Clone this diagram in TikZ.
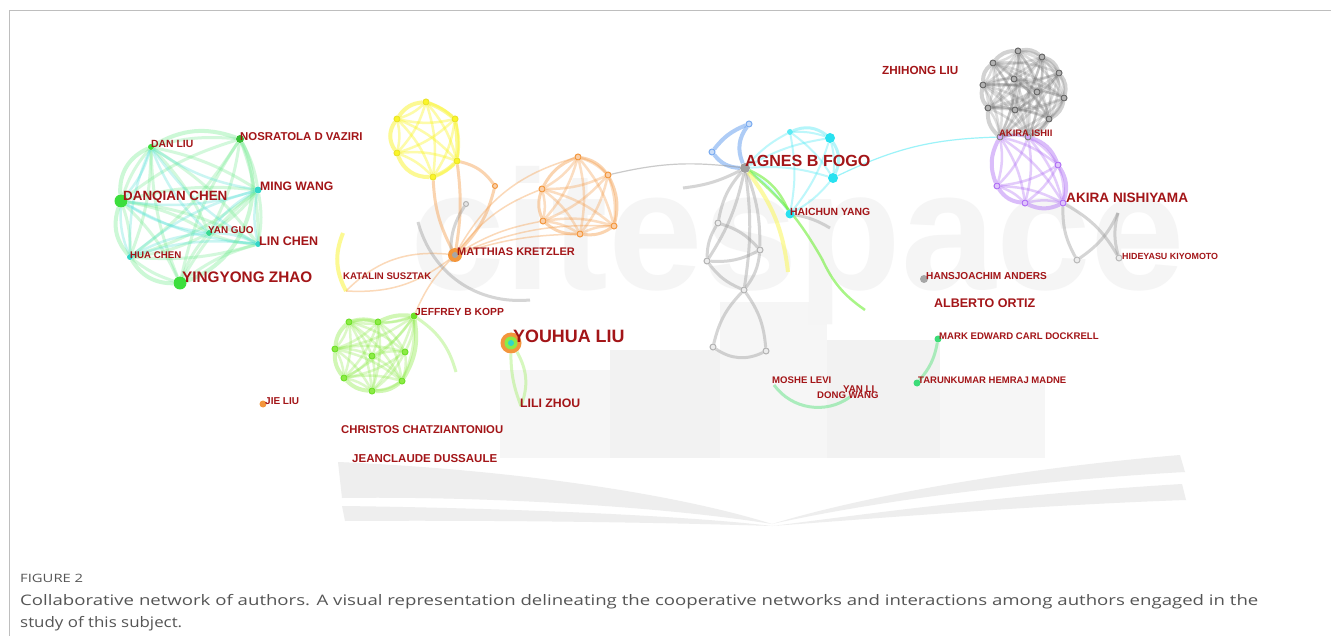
\documentclass[tikz,border=0pt]{standalone}
\usepackage{fontspec}
\usepackage{graphicx}
\setmainfont{Liberation Sans}
\newfontfamily\capfont{Open Sans}

\definecolor{lblred}{RGB}{163,21,24}
\definecolor{gA}{RGB}{60,222,60}
\definecolor{gEdge}{RGB}{110,235,140}
\definecolor{cEdge}{RGB}{80,225,215}
\definecolor{cyN}{RGB}{50,215,200}
\definecolor{yelE}{RGB}{250,245,40}
\definecolor{yelN}{RGB}{235,228,40}
\definecolor{orE}{RGB}{245,160,80}
\definecolor{orN}{RGB}{243,150,60}
\definecolor{limeE}{RGB}{140,235,70}
\definecolor{limeN}{RGB}{110,225,40}
\definecolor{blueE}{RGB}{120,170,240}
\definecolor{cyanE}{RGB}{90,235,245}
\definecolor{cyanN}{RGB}{40,225,240}
\definecolor{grayE}{RGB}{150,150,150}
\definecolor{purE}{RGB}{175,110,245}
\definecolor{mintE}{RGB}{120,230,150}
\definecolor{mintN}{RGB}{60,220,120}
\definecolor{wmA}{RGB}{246,246,246}
\definecolor{wmB}{RGB}{242,242,242}
\definecolor{bookC}{RGB}{238,238,238}
\definecolor{frameC}{RGB}{190,190,190}
\definecolor{capC}{RGB}{85,85,85}

\pgfdeclarelayer{bg}
\pgfdeclarelayer{edges}
\pgfsetlayers{bg,edges,main}

% every pair of the listed nodes joined with the given edge style
\newcommand{\cliq}[2]{%
  \foreach \na [count=\ia] in {#2}{%
    \foreach \nb [count=\ib] in {#2}{%
      \ifnum\ib>\ia \draw[#1] (\na) to (\nb); \fi
    }}}

\tikzset{
  dot/.style={circle, inner sep=0pt, minimum size=#1pt},
  hollow/.style={dot=#1, line width=1pt},
  lbl/.style={font=\bfseries\fontsize{#1}{#1}\selectfont, text=lblred, inner sep=0pt, anchor=west},
  eg/.style={draw=gEdge, line width=3pt, draw opacity=0.3, bend left=10},
  ec/.style={draw=cEdge, line width=2.5pt, draw opacity=0.3, bend right=12},
  egring/.style={draw=gEdge, line width=4pt, draw opacity=0.35},
  ey/.style={draw=yelE, line width=2.5pt, draw opacity=0.4, bend left=12},
  eyring/.style={draw=yelE, line width=4pt, draw opacity=0.5},
  eo/.style={draw=orE, line width=2.5pt, draw opacity=0.35, bend left=12},
  eoring/.style={draw=orE, line width=3pt, draw opacity=0.45},
  eothin/.style={draw=orE, line width=1.5pt, draw opacity=0.4},
  el/.style={draw=limeE, line width=2.5pt, draw opacity=0.3, bend left=12},
  elring/.style={draw=limeE, line width=4pt, draw opacity=0.4},
  elgt/.style={draw=limeE, line width=3pt, draw opacity=0.35},
  eblue/.style={draw=blueE, line width=4pt, draw opacity=0.6},
  ecy/.style={draw=cyanE, line width=2pt, draw opacity=0.4, bend left=10},
  ecyring/.style={draw=cyanE, line width=3pt, draw opacity=0.45},
  egray/.style={draw=grayE, line width=3pt, draw opacity=0.4},
  egthin/.style={draw=grayE, line width=1.2pt, draw opacity=0.5},
  edense/.style={draw=black!60, line width=2.5pt, draw opacity=0.22, bend left=12},
  edring/.style={draw=black!50, line width=4pt, draw opacity=0.35},
  epur/.style={draw=purE, line width=2.5pt, draw opacity=0.35, bend left=12},
  epring/.style={draw=purE, line width=4pt, draw opacity=0.45},
  emint/.style={draw=mintE, line width=3pt, draw opacity=0.6},
  egr/.style={draw=limeE!80!green, line width=2.5pt, draw opacity=0.6},
  eyel/.style={draw=yelE!70!white, line width=4pt, draw opacity=0.6},
}

\begin{document}
\begin{tikzpicture}[x=1pt,y=-1pt]
\useasboundingbox (0,0) rectangle (1331,636);

% ---------- backdrop: watermark, bars and open book ----------
\begin{pgfonlayer}{bg}
  \fill[white] (0,0) rectangle (1331,636);
  \fill[wmA] (500,370) rectangle (610,458);
  \fill[wmB] (610,350) rectangle (720,458);
  \fill[wmA] (720,302) rectangle (827,458);
  \fill[wmB] (827,340) rectangle (940,458);
  \fill[wmA] (940,380) rectangle (1045,458);
  \node[font=\bfseries\fontsize{170}{170}\selectfont, text=black!4, inner sep=0pt, anchor=base west] (wmark) at (410,290) {citespace};
  \fill[bookC] (338,462) .. controls (520,470) and (680,495) .. (772,524)
               .. controls (660,506) and (480,496) .. (342,498) -- cycle;
  \fill[bookC] (342,506) .. controls (500,508) and (680,515) .. (772,526)
               .. controls (650,522) and (480,520) .. (345,521) -- cycle;
  \fill[bookC] (1180,455) .. controls (1000,470) and (850,500) .. (772,524)
               .. controls (880,500) and (1040,480) .. (1185,472) -- cycle;
  \fill[bookC] (1182,484) .. controls (1000,495) and (860,515) .. (772,526)
               .. controls (880,518) and (1040,505) .. (1186,500) -- cycle;
\end{pgfonlayer}

% frame
\draw[frameC, line width=1pt] (1331,11) -- (9,11) -- (9,636);

% ---------- nodes ----------
% left group
\node[dot=13, fill=gA] (danqian) at (121,201) {};
\node[dot=13, fill=gA] (yingyong) at (180,283) {};
\node[dot=6, fill=gA] (danliu) at (151,147) {};
\node[dot=8, fill=gA!85!black] (vaziri) at (240,139) {};
\node[dot=7, fill=cyN] (mingwang) at (258,190) {};
\node[dot=6, fill=cyN] (linchen) at (258,244) {};
\node[dot=6, fill=cyN!60!gA] (yanguo) at (209,233) {};
\node[dot=6, fill=cyN] (huachen) at (130,257) {};

% yellow group
\node[hollow=6, draw=yelN, fill=yelE] (yb1) at (426,102) {};
\node[hollow=6, draw=yelN, fill=yelE] (yb2) at (455,119) {};
\node[hollow=6, draw=yelN, fill=yelE] (yb3) at (397,119) {};
\node[hollow=6, draw=yelN, fill=yelE] (yb4) at (397,153) {};
\node[hollow=6, draw=yelN, fill=yelE] (yb5) at (457,161) {};
\node[hollow=6, draw=yelN, fill=yelE] (yb6) at (433,177) {};

% orange group
\node[dot=14, fill=orN] (kretzler) at (455,255) {};
\node[dot=6, fill=gray!70] (kretzlerc) at (455,255) {};
\node[hollow=5, draw=orN, fill=orE!50] (oc0) at (495,186) {};
\node[hollow=6, draw=orN, fill=orE!50] (oc1) at (578,157) {};
\node[hollow=6, draw=orN, fill=orE!50] (oc2) at (608,175) {};
\node[hollow=6, draw=orN, fill=orE!50] (oc3) at (542,189) {};
\node[hollow=6, draw=orN, fill=orE!50] (oc4) at (543,221) {};
\node[hollow=6, draw=orN, fill=orE!50] (oc5) at (580,234) {};
\node[hollow=6, draw=orN, fill=orE!50] (oc6) at (614,226) {};
\node[hollow=5, draw=gray!60, fill=gray!20] (mgA) at (466,204) {};
\coordinate (mgB) at (452,262);
\coordinate (mgC) at (418,222);
\coordinate (mgD) at (530,300);
\coordinate (katA) at (343,233);
\coordinate (katB) at (346,291);

% lime group
\node[dot=7, fill=limeN] (jeffrey) at (414,316) {};
\node[hollow=6, draw=limeN, fill=limeE] (ld1) at (349,322) {};
\node[hollow=6, draw=limeN, fill=limeE] (ld2) at (378,322) {};
\node[hollow=6, draw=limeN, fill=limeE] (ld3) at (335,349) {};
\node[hollow=6, draw=limeN, fill=limeE] (ld4) at (372,356) {};
\node[hollow=6, draw=limeN, fill=limeE] (ld5) at (405,352) {};
\node[hollow=6, draw=limeN, fill=limeE] (ld6) at (344,378) {};
\node[hollow=6, draw=limeN, fill=limeE] (ld7) at (402,381) {};
\node[hollow=6, draw=limeN, fill=limeE] (ld8) at (372,391) {};
\coordinate (kopptail) at (456,372);

% youhua liu
\node[dot=21, fill=orN] (youhua) at (511,343) {};
\node[dot=13, fill=limeE] (youhuaA) at (511,343) {};
\node[dot=6, fill=cyN] (youhuaB) at (511,343) {};
\coordinate (lili) at (521,406);

% jie liu
\node[dot=7, fill=orN] (jie) at (263,404) {};

% agnes group
\node[dot=10, fill=gray!75] (agnes) at (745,168) {};
\node[hollow=6, draw=blueE, fill=blueE!40] (ub1) at (749,124) {};
\node[hollow=6, draw=blueE, fill=blueE!40] (ub2) at (712,152) {};
\node[dot=6, fill=cyanE] (hc1) at (790,132) {};
\node[dot=10, fill=cyanN] (hc2) at (830,138) {};
\node[dot=10, fill=cyanN] (hc3) at (833,178) {};
\node[dot=9, fill=cyanN] (haichun) at (790,214) {};
\node[hollow=6, draw=gray!60, fill=gray!15] (sg1) at (718,223) {};
\node[hollow=6, draw=gray!60, fill=gray!15] (sg2) at (760,250) {};
\node[hollow=6, draw=gray!60, fill=gray!15] (sg3) at (707,261) {};
\node[hollow=6, draw=gray!60, fill=gray!15] (sg4) at (744,290) {};
\node[hollow=6, draw=gray!60, fill=gray!15] (sg5) at (713,347) {};
\node[hollow=6, draw=gray!60, fill=gray!15] (sg6) at (766,351) {};
\coordinate (aglt) at (683,188);
\coordinate (agg1) at (822,259);
\coordinate (agg2) at (865,310);
\coordinate (agy) at (788,272);
\coordinate (hcg) at (830,228);

% top-right gray group
\node[hollow=6, draw=black!60, fill=black!30] (t1) at (1018,51) {};
\node[hollow=6, draw=black!60, fill=black!30] (t2) at (1042,57) {};
\node[hollow=6, draw=black!60, fill=black!30] (t3) at (993,63) {};
\node[hollow=6, draw=black!60, fill=black!30] (t4) at (1059,73) {};
\node[hollow=6, draw=black!60, fill=black!30] (t5) at (983,85) {};
\node[hollow=6, draw=black!60, fill=black!30] (t6) at (1014,79) {};
\node[hollow=6, draw=black!60, fill=black!30] (t7) at (1037,92) {};
\node[hollow=6, draw=black!60, fill=black!30] (t8) at (1064,98) {};
\node[hollow=6, draw=black!60, fill=black!30] (t9) at (988,108) {};
\node[hollow=6, draw=black!60, fill=black!30] (t10) at (1015,110) {};
\node[hollow=6, draw=black!60, fill=black!30] (t11) at (1049,119) {};
\node[hollow=6, draw=black!50, fill=purE!60] (ishA) at (1000,137) {};
\node[hollow=6, draw=black!50, fill=purE!60] (ishB) at (1028,137) {};

% purple group
\node[hollow=6, draw=purE, fill=purE!40] (pp1) at (1058,165) {};
\node[hollow=6, draw=purE, fill=purE!40] (pp2) at (997,186) {};
\node[hollow=6, draw=purE, fill=purE!40] (pp3) at (1025,203) {};
\node[hollow=6, draw=purE, fill=purE!40] (nish) at (1063,203) {};
\coordinate (hw1) at (1118,213);
\node[hollow=6, draw=gray!55, fill=gray!15] (hw2) at (1077,260) {};
\node[hollow=6, draw=gray!55, fill=gray!15] (hw3) at (1119,258) {};

% lone authors on the right
\node[dot=8, fill=gray!70] (hans) at (924,279) {};
\node[dot=7, fill=mintN] (mark) at (938,339) {};
\node[dot=7, fill=mintN] (taru) at (917,383) {};
\coordinate (moshe) at (774,385);
\coordinate (dongw) at (850,397);

% ---------- links ----------
\begin{pgfonlayer}{edges}
  % left group
  \cliq{eg}{danqian,yingyong,danliu,vaziri,mingwang,linchen,yanguo,huachen}
  \cliq{ec}{danqian,danliu,mingwang,linchen,yanguo,huachen}
  \draw[egring] (danqian) to[bend left=35] (danliu);
  \draw[egring] (danliu) to[bend left=25] (vaziri);
  \draw[egring] (vaziri) to[bend left=50] (yingyong);
  \draw[egring] (huachen) to[bend right=30] (yingyong);
  \draw[egring] (danqian) to[bend right=30] (huachen);

  % yellow group
  \cliq{ey}{yb1,yb2,yb3,yb4,yb5,yb6}
  \draw[eyring] (yb3) to[bend right=35] (yb4);
  \draw[eyring] (yb4) to[bend right=35] (yb6);
  \draw[eyring] (yb3) to[bend left=25] (yb1);
  \draw[eyring] (yb1) to[bend left=8] (yb2);
  \draw[eyring] (yb2) to[bend left=5] (yb5);
  \draw[eyring] (yb5) to[bend left=10] (yb6);

  % orange group
  \cliq{eo}{oc1,oc2,oc3,oc4,oc5,oc6}
  \draw[eoring] (oc3) to[bend left=20] (oc1);
  \draw[eoring] (oc1) to[bend left=20] (oc2);
  \draw[eoring] (oc2) to[bend left=20] (oc6);
  \draw[eoring] (oc6) to[bend left=20] (oc5);
  \draw[eoring] (oc5) to[bend left=20] (oc4);
  \draw[eoring] (oc4) to[bend left=20] (oc3);
  \draw[eoring] (kretzler) to[bend left=12] (yb6);
  \draw[eoring] (kretzler) to[bend right=8] (yb5);
  \draw[eoring] (yb5) to[bend left=20] (oc0);
  \draw[eoring] (oc0) to[bend left=15] (kretzler);
  \draw[eothin] (kretzler) to[bend left=15] (oc3);
  \draw[eothin] (kretzler) to[bend left=10] (oc4);
  \draw[eothin] (kretzler) to[bend left=8] (oc5);
  \draw[eothin] (kretzler) to[bend left=12] (oc6);
  \draw[eothin] (kretzler) to[bend left=22] (oc1);
  \draw[eothin] (kretzler) to[bend right=25] (katB);
  \draw[eothin] (kretzler) to[bend left=20] (katB);
  \draw[eothin] (kretzler) to[bend right=10] (jeffrey);
  \draw[eyring] (katA) to[bend right=25] (katB);
  \draw[egray] (mgA) to[bend right=20] (mgB);
  \draw[egray] (mgC) to[bend right=40] (mgD);

  % lime group
  \cliq{el}{jeffrey,ld1,ld2,ld3,ld4,ld5,ld6,ld7,ld8}
  \draw[elring] (ld1) to[bend right=20] (ld3);
  \draw[elring] (ld3) to[bend right=20] (ld6);
  \draw[elring] (ld6) to[bend right=20] (ld8);
  \draw[elring] (ld8) to[bend right=20] (ld7);
  \draw[elring] (ld7) to[bend right=20] (jeffrey);
  \draw[elring] (jeffrey) to[bend right=15] (ld2);
  \draw[elring] (ld2) to[bend right=15] (ld1);
  \draw[elgt] (jeffrey) to[bend left=20] (kopptail);

  % youhua liu
  \draw[elgt] (youhua) to[bend left=25] (lili);
  \draw[elgt] (youhua) to[bend right=10] (lili);

  % agnes group
  \draw[eblue] (ub1) to[bend right=30] (agnes);
  \draw[eblue] (ub2) to[bend right=25] (agnes);
  \draw[eblue] (ub1) to[bend right=15] (ub2);
  \cliq{ecy}{agnes,hc1,hc2,hc3,haichun}
  \draw[ecyring] (hc1) to[bend left=30] (hc2);
  \draw[ecyring] (hc2) to[bend left=30] (hc3);
  \draw[draw=cyanE, line width=1.2pt, draw opacity=0.6] (hc3) to[bend left=12] (ishA);
  \draw[egray] (agnes) to[bend right=15] (sg1);
  \draw[egray] (agnes) to[bend left=10] (sg3);
  \draw[egray] (agnes) to[bend left=10] (sg2);
  \draw[egray] (agnes) to[bend left=8] (sg4);
  \draw[egray] (sg1) to[bend left=15] (sg2);
  \draw[egray] (sg3) to[bend right=15] (sg2);
  \draw[egray] (sg1) to[bend right=15] (sg3);
  \draw[egray] (sg3) to[bend right=15] (sg4);
  \draw[egray] (sg2) to[bend left=15] (sg4);
  \draw[egray] (sg4) to[bend right=15] (sg5);
  \draw[egray] (sg4) to[bend left=15] (sg6);
  \draw[egray] (sg5) to[bend right=30] (sg6);
  \draw[egthin] (agnes) to[bend right=10] (oc2);
  \draw[egray] (agnes) to[bend left=10] (aglt);
  \draw[egr] (agnes) to[bend left=10] (agg1);
  \draw[egr] (agg1) to[bend right=15] (agg2);
  \draw[egr] (agnes) to[bend left=20] (haichun);
  \draw[eyel] (agnes) to[bend left=15] (agy);
  \draw[egray] (haichun) to[bend left=10] (hcg);

  % top-right gray group
  \cliq{edense}{t1,t2,t3,t4,t5,t6,t7,t8,t9,t10,t11,ishA,ishB}
  \draw[edring] (t9) to[bend left=25] (t5);
  \draw[edring] (t5) to[bend left=25] (t3);
  \draw[edring] (t3) to[bend left=25] (t1);
  \draw[edring] (t1) to[bend left=25] (t2);
  \draw[edring] (t2) to[bend left=25] (t4);
  \draw[edring] (t4) to[bend left=25] (t8);
  \draw[edring] (t8) to[bend left=25] (t11);
  \draw[edring] (t11) to[bend left=20] (ishB);
  \draw[edring] (ishA) to[bend left=25] (t9);

  % purple group
  \cliq{epur}{ishA,ishB,pp1,pp2,pp3,nish}
  \draw[epring] (ishA) to[bend right=25] (pp2);
  \draw[epring] (pp2) to[bend right=25] (pp3);
  \draw[epring] (pp3) to[bend right=25] (nish);
  \draw[epring] (nish) to[bend right=25] (pp1);
  \draw[epring] (pp1) to[bend right=25] (ishB);
  \draw[egray] (nish) to[bend right=15] (hw2);
  \draw[egray] (nish) to[bend left=15] (hw3);
  \draw[egray] (hw1) to[bend left=15] (hw2);
  \draw[egray] (hw1) to[bend right=15] (hw3);

  % right side pairs
  \draw[emint] (mark) to[bend left=15] (taru);
  \draw[emint] (moshe) to[bend right=45] (dongw);
\end{pgfonlayer}

% ---------- author labels ----------
\node[lbl=13.4] (l-danqian) at (123,197) {DANQIAN CHEN};
\node[lbl=15.3] (l-yingyong) at (182,277) {YINGYONG ZHAO};
\node[lbl=16.1] (l-agnes) at (745,161) {AGNES B FOGO};
\node[lbl=17.9] (l-youhua) at (513,336) {YOUHUA LIU};
\node[lbl=13.6] (l-nish) at (1066,198) {AKIRA NISHIYAMA};
\node[lbl=11] (l-kretzler) at (457,252) {MATTHIAS KRETZLER};
\node[lbl=11.4] (l-vaziri) at (240,137) {NOSRATOLA D VAZIRI};
\node[lbl=12.2] (l-mingwang) at (260,186) {MING WANG};
\node[lbl=12.5] (l-linchen) at (259,241) {LIN CHEN};
\node[lbl=10.4] (l-danliu) at (151,144) {DAN LIU};
\node[lbl=9.9] (l-yanguo) at (208,230) {YAN GUO};
\node[lbl=9.7] (l-huachen) at (130,255) {HUA CHEN};
\node[lbl=9.6] (l-katalin) at (343,276) {KATALIN SUSZTAK};
\node[lbl=10.3] (l-jeffrey) at (415,312) {JEFFREY B KOPP};
\node[lbl=12.3] (l-lili) at (520,403) {LILI ZHOU};
\node[lbl=11.3] (l-christos) at (341,430) {CHRISTOS CHATZIANTONIOU};
\node[lbl=11.5] (l-jeanclaude) at (352,459) {JEANCLAUDE DUSSAULE};
\node[lbl=10] (l-jie) at (265,401) {JIE LIU};
\node[lbl=10.4] (l-haichun) at (790,212) {HAICHUN YANG};
\node[lbl=11.7] (l-zhihong) at (882,70) {ZHIHONG LIU};
\node[lbl=9.4] (l-ishii) at (999,133) {AKIRA ISHII};
\node[lbl=8.9] (l-hideyasu) at (1122,256) {HIDEYASU KIYOMOTO};
\node[lbl=10.1] (l-hans) at (926,276) {HANSJOACHIM ANDERS};
\node[lbl=12.5] (l-ortiz) at (934,303) {ALBERTO ORTIZ};
\node[lbl=9.6] (l-mark) at (939,336) {MARK EDWARD CARL DOCKRELL};
\node[lbl=9.5] (l-taru) at (918,380) {TARUNKUMAR HEMRAJ MADNE};
\node[lbl=9.6] (l-moshe) at (772,380) {MOSHE LEVI};
\node[lbl=9.8] (l-yanli) at (843,389) {YAN LI};
\node[lbl=9.6] (l-dong) at (817,395) {DONG WANG};

% ---------- caption ----------
\node[font=\capfont\fontsize{11.5}{11.5}\selectfont, text=capC, inner sep=0pt, anchor=base west] (figno) at (20,582) {\resizebox{63pt}{\height}{FIGURE 2}};
\node[font=\capfont\fontsize{14.5}{14.5}\selectfont, text=capC, inner sep=0pt, anchor=base west] (capA) at (20,605) {\resizebox{1238pt}{\height}{Collaborative network of authors. A visual representation delineating the cooperative networks and interactions among authors engaged in the}};
\node[font=\capfont\fontsize{14.5}{14.5}\selectfont, text=capC, inner sep=0pt, anchor=base west] (capB) at (20,627) {\resizebox{162pt}{\height}{study of this subject.}};
\end{tikzpicture}
\end{document}
